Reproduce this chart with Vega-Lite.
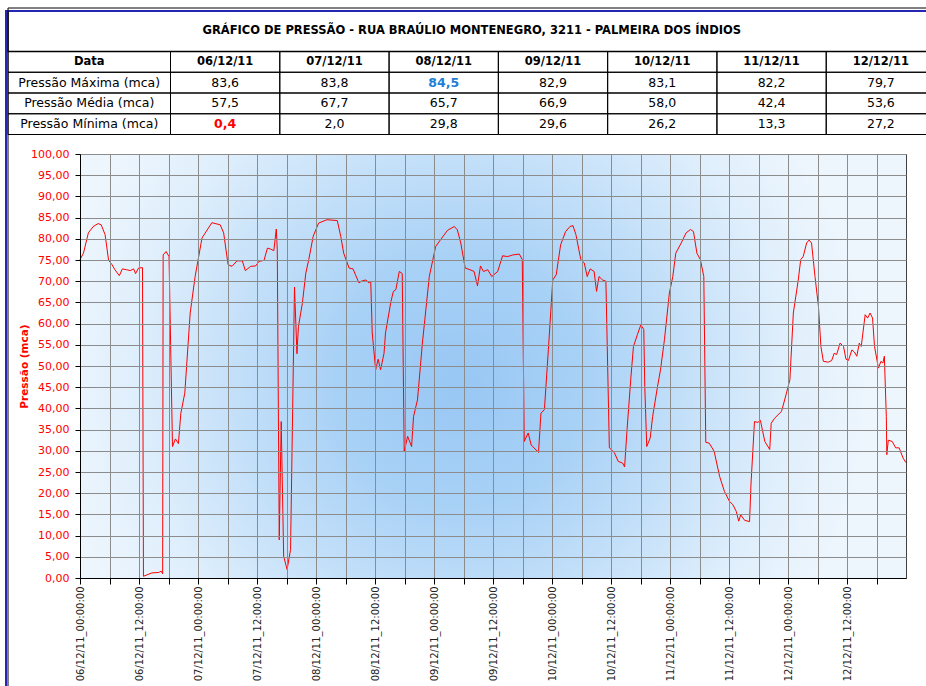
{
  "$schema": "https://vega.github.io/schema/vega-lite/v6.json",
  "width": 826,
  "height": 424,
  "padding": {"left": 5, "top": 7, "right": 0, "bottom": 0},
  "background": "white",
  "config": {
    "font": "DejaVu Sans",
    "view": {"stroke": "#404040", "fill": "#eef6fd"}
  },
  "datasets": {
    "pressao": [
      {"t":"2011-12-06T00:00","p":75.1},{"t":"2011-12-06T00:42","p":76.6},{"t":"2011-12-06T01:42","p":81.4},{"t":"2011-12-06T02:42","p":82.9},{"t":"2011-12-06T03:42","p":83.6},{"t":"2011-12-06T04:18","p":83.3},{"t":"2011-12-06T05:06","p":81.0},{"t":"2011-12-06T05:48","p":75.0},{"t":"2011-12-06T06:30","p":73.9},{"t":"2011-12-06T07:06","p":72.7},{"t":"2011-12-06T08:00","p":71.3},{"t":"2011-12-06T08:36","p":72.9},{"t":"2011-12-06T09:30","p":72.7},{"t":"2011-12-06T10:12","p":72.5},{"t":"2011-12-06T10:54","p":72.9},{"t":"2011-12-06T11:18","p":71.8},{"t":"2011-12-06T11:54","p":73.1},{"t":"2011-12-06T12:42","p":73.2},{"t":"2011-12-06T12:54","p":0.4},{"t":"2011-12-06T14:36","p":1.2},{"t":"2011-12-06T16:00","p":1.3},{"t":"2011-12-06T16:30","p":1.6},{"t":"2011-12-06T16:48","p":1.0},{"t":"2011-12-06T16:54","p":76.2},{"t":"2011-12-06T17:30","p":77.0},{"t":"2011-12-06T18:06","p":75.8},{"t":"2011-12-06T18:48","p":31.0},{"t":"2011-12-06T19:24","p":32.8},{"t":"2011-12-06T20:00","p":31.7},{"t":"2011-12-06T20:30","p":38.9},{"t":"2011-12-06T21:18","p":43.6},{"t":"2011-12-06T22:24","p":62.5},{"t":"2011-12-06T23:24","p":71.1},
      {"t":"2011-12-07T00:48","p":80.2},{"t":"2011-12-07T02:48","p":83.8},{"t":"2011-12-07T04:30","p":83.3},{"t":"2011-12-07T05:12","p":81.4},{"t":"2011-12-07T06:06","p":73.9},{"t":"2011-12-07T06:54","p":73.5},{"t":"2011-12-07T07:54","p":74.8},{"t":"2011-12-07T09:00","p":74.8},{"t":"2011-12-07T09:36","p":72.5},{"t":"2011-12-07T10:42","p":73.5},{"t":"2011-12-07T11:42","p":73.6},{"t":"2011-12-07T12:24","p":74.7},{"t":"2011-12-07T13:24","p":74.9},{"t":"2011-12-07T14:06","p":77.8},{"t":"2011-12-07T14:42","p":77.6},{"t":"2011-12-07T15:24","p":77.2},{"t":"2011-12-07T15:54","p":82.3},{"t":"2011-12-07T16:06","p":77.4},{"t":"2011-12-07T16:30","p":9.0},{"t":"2011-12-07T16:54","p":36.9},{"t":"2011-12-07T17:24","p":5.1},{"t":"2011-12-07T18:06","p":2.0},{"t":"2011-12-07T18:48","p":6.7},{"t":"2011-12-07T19:36","p":68.6},{"t":"2011-12-07T20:06","p":52.9},{"t":"2011-12-07T20:24","p":59.3},{"t":"2011-12-07T21:12","p":64.8},{"t":"2011-12-07T21:54","p":71.9},{"t":"2011-12-07T22:30","p":75.1},{"t":"2011-12-07T23:24","p":80.6},
      {"t":"2011-12-08T00:30","p":83.7},{"t":"2011-12-08T02:12","p":84.5},{"t":"2011-12-08T04:18","p":84.3},{"t":"2011-12-08T05:00","p":80.6},{"t":"2011-12-08T05:36","p":76.6},{"t":"2011-12-08T06:42","p":73.1},{"t":"2011-12-08T07:30","p":72.9},{"t":"2011-12-08T08:00","p":71.5},{"t":"2011-12-08T08:42","p":69.6},{"t":"2011-12-08T09:12","p":70.0},{"t":"2011-12-08T10:06","p":70.3},{"t":"2011-12-08T10:42","p":69.6},{"t":"2011-12-08T11:06","p":70.0},{"t":"2011-12-08T11:24","p":57.8},{"t":"2011-12-08T12:06","p":49.1},{"t":"2011-12-08T12:36","p":51.6},{"t":"2011-12-08T13:06","p":49.1},{"t":"2011-12-08T13:48","p":53.0},{"t":"2011-12-08T14:06","p":57.8},{"t":"2011-12-08T15:12","p":65.2},{"t":"2011-12-08T15:42","p":67.6},{"t":"2011-12-08T16:12","p":68.0},{"t":"2011-12-08T16:54","p":72.3},{"t":"2011-12-08T17:30","p":71.8},{"t":"2011-12-08T17:54","p":29.8},{"t":"2011-12-08T18:36","p":33.4},{"t":"2011-12-08T19:24","p":31.0},{"t":"2011-12-08T19:48","p":38.1},{"t":"2011-12-08T20:36","p":42.0},{"t":"2011-12-08T21:36","p":55.4},{"t":"2011-12-08T23:00","p":71.1},
      {"t":"2011-12-09T00:18","p":78.2},{"t":"2011-12-09T01:18","p":79.8},{"t":"2011-12-09T02:42","p":82.0},{"t":"2011-12-09T04:06","p":82.9},{"t":"2011-12-09T04:42","p":82.1},{"t":"2011-12-09T05:24","p":79.0},{"t":"2011-12-09T06:18","p":73.1},{"t":"2011-12-09T07:18","p":72.7},{"t":"2011-12-09T08:06","p":72.3},{"t":"2011-12-09T08:48","p":68.9},{"t":"2011-12-09T09:24","p":73.6},{"t":"2011-12-09T10:00","p":72.3},{"t":"2011-12-09T10:54","p":72.7},{"t":"2011-12-09T11:42","p":71.1},{"t":"2011-12-09T12:54","p":72.3},{"t":"2011-12-09T13:54","p":76.0},{"t":"2011-12-09T14:54","p":75.8},{"t":"2011-12-09T16:00","p":76.2},{"t":"2011-12-09T17:18","p":76.4},{"t":"2011-12-09T17:54","p":75.1},{"t":"2011-12-09T18:18","p":32.2},{"t":"2011-12-09T19:06","p":34.2},{"t":"2011-12-09T19:42","p":31.4},{"t":"2011-12-09T21:12","p":29.6},{"t":"2011-12-09T21:42","p":38.9},{"t":"2011-12-09T22:24","p":39.7},{"t":"2011-12-09T23:12","p":53.8},
      {"t":"2011-12-10T00:06","p":70.3},{"t":"2011-12-10T00:48","p":71.5},{"t":"2011-12-10T01:42","p":78.6},{"t":"2011-12-10T02:42","p":81.7},{"t":"2011-12-10T03:36","p":82.9},{"t":"2011-12-10T04:12","p":83.1},{"t":"2011-12-10T04:48","p":81.0},{"t":"2011-12-10T05:48","p":75.1},{"t":"2011-12-10T06:30","p":74.3},{"t":"2011-12-10T07:06","p":71.1},{"t":"2011-12-10T07:42","p":72.9},{"t":"2011-12-10T08:30","p":72.3},{"t":"2011-12-10T09:00","p":67.6},{"t":"2011-12-10T09:30","p":71.1},{"t":"2011-12-10T10:12","p":70.3},{"t":"2011-12-10T10:54","p":70.0},{"t":"2011-12-10T11:36","p":30.7},{"t":"2011-12-10T12:36","p":29.6},{"t":"2011-12-10T13:24","p":27.5},{"t":"2011-12-10T14:18","p":27.1},{"t":"2011-12-10T14:42","p":26.2},{"t":"2011-12-10T15:12","p":35.0},{"t":"2011-12-10T16:00","p":47.6},{"t":"2011-12-10T16:30","p":54.6},{"t":"2011-12-10T17:18","p":57.4},{"t":"2011-12-10T18:00","p":59.7},{"t":"2011-12-10T18:36","p":58.6},{"t":"2011-12-10T18:48","p":45.2},{"t":"2011-12-10T19:12","p":31.0},{"t":"2011-12-10T19:54","p":33.0},{"t":"2011-12-10T20:24","p":38.1},{"t":"2011-12-10T21:24","p":45.2},{"t":"2011-12-10T22:00","p":49.1},{"t":"2011-12-10T22:48","p":56.2},{"t":"2011-12-10T23:48","p":67.2},
      {"t":"2011-12-11T00:30","p":71.1},{"t":"2011-12-11T01:06","p":76.6},{"t":"2011-12-11T02:12","p":79.0},{"t":"2011-12-11T03:12","p":81.4},{"t":"2011-12-11T04:06","p":82.2},{"t":"2011-12-11T04:42","p":81.7},{"t":"2011-12-11T05:24","p":76.6},{"t":"2011-12-11T06:06","p":75.1},{"t":"2011-12-11T06:48","p":71.1},{"t":"2011-12-11T07:12","p":32.0},{"t":"2011-12-11T07:54","p":31.8},{"t":"2011-12-11T08:54","p":29.9},{"t":"2011-12-11T10:00","p":24.0},{"t":"2011-12-11T11:00","p":20.4},{"t":"2011-12-11T12:00","p":18.1},{"t":"2011-12-11T12:42","p":17.3},{"t":"2011-12-11T13:24","p":15.7},{"t":"2011-12-11T13:54","p":13.4},{"t":"2011-12-11T14:18","p":14.9},{"t":"2011-12-11T15:06","p":13.6},{"t":"2011-12-11T16:06","p":13.3},{"t":"2011-12-11T16:24","p":22.4},{"t":"2011-12-11T17:06","p":36.9},{"t":"2011-12-11T17:48","p":36.7},{"t":"2011-12-11T18:18","p":37.2},{"t":"2011-12-11T19:12","p":32.2},{"t":"2011-12-11T20:12","p":30.3},{"t":"2011-12-11T20:30","p":36.5},{"t":"2011-12-11T21:12","p":37.7},{"t":"2011-12-11T22:36","p":39.3},{"t":"2011-12-11T23:36","p":43.6},
      {"t":"2011-12-12T00:18","p":46.8},{"t":"2011-12-12T01:00","p":62.5},{"t":"2011-12-12T02:00","p":70.3},{"t":"2011-12-12T02:30","p":75.1},{"t":"2011-12-12T03:00","p":75.8},{"t":"2011-12-12T03:42","p":79.0},{"t":"2011-12-12T04:12","p":79.7},{"t":"2011-12-12T04:42","p":79.0},{"t":"2011-12-12T05:24","p":71.1},{"t":"2011-12-12T06:06","p":64.1},{"t":"2011-12-12T06:36","p":54.6},{"t":"2011-12-12T07:06","p":51.1},{"t":"2011-12-12T08:06","p":50.9},{"t":"2011-12-12T08:48","p":51.3},{"t":"2011-12-12T09:18","p":53.0},{"t":"2011-12-12T09:48","p":52.7},{"t":"2011-12-12T10:30","p":55.4},{"t":"2011-12-12T11:12","p":54.6},{"t":"2011-12-12T11:42","p":51.6},{"t":"2011-12-12T12:12","p":51.3},{"t":"2011-12-12T12:54","p":53.8},{"t":"2011-12-12T13:24","p":53.3},{"t":"2011-12-12T13:54","p":52.3},{"t":"2011-12-12T14:24","p":55.4},{"t":"2011-12-12T14:48","p":54.6},{"t":"2011-12-12T15:36","p":62.1},{"t":"2011-12-12T16:06","p":61.3},{"t":"2011-12-12T16:36","p":62.5},{"t":"2011-12-12T17:06","p":61.3},{"t":"2011-12-12T17:30","p":54.6},{"t":"2011-12-12T18:18","p":49.5},{"t":"2011-12-12T18:48","p":51.1},{"t":"2011-12-12T19:12","p":50.7},{"t":"2011-12-12T19:30","p":52.3},{"t":"2011-12-12T19:54","p":38.1},{"t":"2011-12-12T20:00","p":29.1},{"t":"2011-12-12T20:18","p":32.5},{"t":"2011-12-12T21:06","p":32.2},{"t":"2011-12-12T21:48","p":30.7},{"t":"2011-12-12T22:30","p":30.7},{"t":"2011-12-12T23:18","p":28.3},{"t":"2011-12-12T23:54","p":27.2}
    ],
    "tabela": [
      {"data":"06/12/11","linha":"Pressão Máxima (mca)","texto":"83,6","destaque":"nenhum"},
      {"data":"06/12/11","linha":"Pressão Média (mca)","texto":"57,5","destaque":"nenhum"},
      {"data":"06/12/11","linha":"Pressão Mínima (mca)","texto":"0,4","destaque":"mínima"},
      {"data":"07/12/11","linha":"Pressão Máxima (mca)","texto":"83,8","destaque":"nenhum"},
      {"data":"07/12/11","linha":"Pressão Média (mca)","texto":"67,7","destaque":"nenhum"},
      {"data":"07/12/11","linha":"Pressão Mínima (mca)","texto":"2,0","destaque":"nenhum"},
      {"data":"08/12/11","linha":"Pressão Máxima (mca)","texto":"84,5","destaque":"máxima"},
      {"data":"08/12/11","linha":"Pressão Média (mca)","texto":"65,7","destaque":"nenhum"},
      {"data":"08/12/11","linha":"Pressão Mínima (mca)","texto":"29,8","destaque":"nenhum"},
      {"data":"09/12/11","linha":"Pressão Máxima (mca)","texto":"82,9","destaque":"nenhum"},
      {"data":"09/12/11","linha":"Pressão Média (mca)","texto":"66,9","destaque":"nenhum"},
      {"data":"09/12/11","linha":"Pressão Mínima (mca)","texto":"29,6","destaque":"nenhum"},
      {"data":"10/12/11","linha":"Pressão Máxima (mca)","texto":"83,1","destaque":"nenhum"},
      {"data":"10/12/11","linha":"Pressão Média (mca)","texto":"58,0","destaque":"nenhum"},
      {"data":"10/12/11","linha":"Pressão Mínima (mca)","texto":"26,2","destaque":"nenhum"},
      {"data":"11/12/11","linha":"Pressão Máxima (mca)","texto":"82,2","destaque":"nenhum"},
      {"data":"11/12/11","linha":"Pressão Média (mca)","texto":"42,4","destaque":"nenhum"},
      {"data":"11/12/11","linha":"Pressão Mínima (mca)","texto":"13,3","destaque":"nenhum"},
      {"data":"12/12/11","linha":"Pressão Máxima (mca)","texto":"79,7","destaque":"nenhum"},
      {"data":"12/12/11","linha":"Pressão Média (mca)","texto":"53,6","destaque":"nenhum"},
      {"data":"12/12/11","linha":"Pressão Mínima (mca)","texto":"27,2","destaque":"nenhum"}
    ],
    "linhas": [
      {"linha":"Data","coluna":"rótulos"},
      {"linha":"Pressão Máxima (mca)","coluna":"rótulos"},
      {"linha":"Pressão Média (mca)","coluna":"rótulos"},
      {"linha":"Pressão Mínima (mca)","coluna":"rótulos"}
    ],
    "titulo": [
      {"titulo":"GRÁFICO DE PRESSÃO - RUA BRAÚLIO MONTENEGRO, 3211 - PALMEIRA DOS ÍNDIOS"}
    ],
    "moldura": [
      {"moldura":"externa"}
    ]
  },
  "layer": [
    {
      "data": {"name": "pressao"},
      "layer": [
        {
          "mark": {
            "type": "rect",
            "stroke": null,
            "fill": {
              "gradient": "radial",
              "x1": 0.46, "y1": 0.52, "x2": 0.46, "y2": 0.52, "r1": 0, "r2": 0.5,
              "stops": [
                {"offset": 0, "color": "#98c7f4"},
                {"offset": 0.3, "color": "#a8d1f6"},
                {"offset": 0.55, "color": "#c4e0f9"},
                {"offset": 0.8, "color": "#e0effc"},
                {"offset": 1, "color": "#eef6fd"}
              ]
            }
          },
          "encoding": {
            "x": {
              "aggregate": "min", "field": "t", "type": "temporal",
              "axis": {
                "title": null,
                "zindex": 1,
                "labelExpr": "hours(datum.value) % 12 === 0 ? timeFormat(datum.value, '%d/%m/%y_%H:%M:%S') : ''",
                "labelAngle": -90,
                "labelFontSize": 10,
                "labelColor": "#222222",
                "labelPadding": 2,
                "labelFlush": false,
                "labelOverlap": false,
                "tickSize": 6,
                "tickColor": "#000000",
                "domainColor": "#000000",
                "grid": true,
                "gridColor": "#8c8c8c",
                "gridOpacity": 1
              }
            },
            "x2": {"aggregate": "max", "field": "t"},
            "y": {
              "datum": 0, "type": "quantitative",
              "scale": {"domain": [0, 100]},
              "axis": {
                "title": "Pressão (mca)",
                "zindex": 1,
                "titleColor": "#ff0000",
                "titleFontSize": 10.5,
                "titleFontWeight": "bold",
                "titlePadding": 1,
                "values": [0, 5, 10, 15, 20, 25, 30, 35, 40, 45, 50, 55, 60, 65, 70, 75, 80, 85, 90, 95, 100],
                "labelExpr": "replace(format(datum.value, '.2f'), '.', ',')",
                "labelColor": "#ff0000",
                "labelFontSize": 11,
                "labelFlush": false,
                "labelOverlap": false,
                "tickSize": 5,
                "labelPadding": 6,
                "tickColor": "#000000",
                "domainColor": "#000000",
                "grid": true,
                "gridColor": "#8c8c8c",
                "gridOpacity": 1
              }
            },
            "y2": {"datum": 100}
          }
        },
        {
          "mark": {"type": "line", "color": "#ff0000", "strokeWidth": 1},
          "encoding": {
            "x": {
              "field": "t", "type": "temporal",
              "axis": {
                "title": null,
                "zindex": 1,
                "labelExpr": "hours(datum.value) % 12 === 0 ? timeFormat(datum.value, '%d/%m/%y_%H:%M:%S') : ''",
                "labelAngle": -90,
                "labelFontSize": 10,
                "labelColor": "#222222",
                "labelPadding": 2,
                "labelFlush": false,
                "labelOverlap": false,
                "tickSize": 6,
                "tickColor": "#000000",
                "domainColor": "#000000",
                "grid": true,
                "gridColor": "#8c8c8c",
                "gridOpacity": 1
              }
            },
            "y": {
              "field": "p", "type": "quantitative",
              "scale": {"domain": [0, 100]},
              "axis": {
                "title": "Pressão (mca)",
                "zindex": 1,
                "titleColor": "#ff0000",
                "titleFontSize": 10.5,
                "titleFontWeight": "bold",
                "titlePadding": 1,
                "values": [0, 5, 10, 15, 20, 25, 30, 35, 40, 45, 50, 55, 60, 65, 70, 75, 80, 85, 90, 95, 100],
                "labelExpr": "replace(format(datum.value, '.2f'), '.', ',')",
                "labelColor": "#ff0000",
                "labelFontSize": 11,
                "labelFlush": false,
                "labelOverlap": false,
                "tickSize": 5,
                "labelPadding": 6,
                "tickColor": "#000000",
                "domainColor": "#000000",
                "grid": true,
                "gridColor": "#8c8c8c",
                "gridOpacity": 1
              }
            }
          }
        }
      ]
    },
    {
      "layer": [
        {
          "data": {"name": "tabela"},
          "layer": [
            {
              "mark": {"type": "rect", "filled": false, "color": "#000000", "strokeWidth": 1},
              "encoding": {
                "x": {"field": "data", "type": "nominal", "scale": {"type": "band", "range": [90.5, 855.5], "paddingInner": 0, "paddingOuter": 0}, "axis": null},
                "y": {"field": "linha", "type": "nominal", "scale": {"type": "band", "domain": ["Data", "Pressão Máxima (mca)", "Pressão Média (mca)", "Pressão Mínima (mca)"], "range": [-102.5, -19.5], "paddingInner": 0, "paddingOuter": 0}, "axis": null}
              }
            },
            {
              "transform": [{"filter": "datum.linha === 'Pressão Máxima (mca)'"}],
              "mark": {"type": "rect", "filled": false, "color": "#000000", "strokeWidth": 1},
              "encoding": {
                "x": {"field": "data", "type": "nominal", "axis": null},
                "y": {"datum": "Data", "type": "nominal", "axis": null}
              }
            },
            {
              "transform": [{"filter": "datum.linha === 'Pressão Máxima (mca)'"}],
              "mark": {"type": "text", "fontWeight": "bold", "fontSize": 11.5, "color": "#000000", "baseline": "middle"},
              "encoding": {
                "x": {"field": "data", "type": "nominal", "axis": null},
                "y": {"datum": "Data", "type": "nominal", "axis": null},
                "text": {"field": "data", "type": "nominal"}
              }
            },
            {
              "transform": [{"filter": "datum.destaque === 'nenhum'"}],
              "mark": {"type": "text", "fontSize": 12.5, "color": "#000000", "baseline": "middle"},
              "encoding": {
                "x": {"field": "data", "type": "nominal", "axis": null},
                "y": {"field": "linha", "type": "nominal", "axis": null},
                "text": {"field": "texto", "type": "nominal"}
              }
            },
            {
              "transform": [{"filter": "datum.destaque !== 'nenhum'"}],
              "mark": {"type": "text", "fontSize": 12.5, "fontWeight": "bold", "baseline": "middle"},
              "encoding": {
                "x": {"field": "data", "type": "nominal", "axis": null},
                "y": {"field": "linha", "type": "nominal", "axis": null},
                "text": {"field": "texto", "type": "nominal"},
                "color": {"condition": {"test": "datum.destaque === 'máxima'", "value": "#1f7fd6"}, "value": "#ff0000"}
              }
            }
          ]
        },
        {
          "data": {"name": "linhas"},
          "layer": [
            {
              "mark": {"type": "rect", "filled": false, "color": "#000000", "strokeWidth": 1},
              "encoding": {
                "x": {"field": "coluna", "type": "nominal", "scale": {"type": "band", "range": [-72, 90.5], "paddingInner": 0, "paddingOuter": 0}, "axis": null},
                "y": {"field": "linha", "type": "nominal", "scale": {"type": "band", "domain": ["Data", "Pressão Máxima (mca)", "Pressão Média (mca)", "Pressão Mínima (mca)"], "range": [-102.5, -19.5], "paddingInner": 0, "paddingOuter": 0}, "axis": null}
              }
            },
            {
              "transform": [{"filter": "datum.linha !== 'Data'"}],
              "mark": {"type": "text", "fontSize": 12.5, "color": "#000000", "baseline": "middle"},
              "encoding": {
                "x": {"field": "coluna", "type": "nominal", "axis": null},
                "y": {"field": "linha", "type": "nominal", "axis": null},
                "text": {"field": "linha", "type": "nominal"}
              }
            },
            {
              "transform": [{"filter": "datum.linha === 'Data'"}],
              "mark": {"type": "text", "fontSize": 11.5, "fontWeight": "bold", "color": "#000000", "baseline": "middle"},
              "encoding": {
                "x": {"field": "coluna", "type": "nominal", "axis": null},
                "y": {"field": "linha", "type": "nominal", "axis": null},
                "text": {"field": "linha", "type": "nominal"}
              }
            }
          ]
        },
        {
          "data": {"name": "titulo"},
          "layer": [
            {
              "mark": {"type": "rect", "filled": false, "color": "#000000", "strokeWidth": 1.5},
              "encoding": {
                "x": {"field": "titulo", "type": "nominal", "scale": {"type": "band", "range": [-72, 855.5], "paddingInner": 0, "paddingOuter": 0}, "axis": null},
                "y": {"field": "titulo", "type": "nominal", "scale": {"type": "band", "range": [-143, -102.5], "paddingInner": 0, "paddingOuter": 0}, "axis": null}
              }
            },
            {
              "mark": {"type": "text", "fontSize": 11.5, "fontWeight": "bold", "color": "#000000", "baseline": "middle"},
              "encoding": {
                "x": {"field": "titulo", "type": "nominal", "axis": null},
                "y": {"field": "titulo", "type": "nominal", "axis": null},
                "text": {"field": "titulo", "type": "nominal"}
              }
            }
          ]
        }
      ],
      "resolve": {"scale": {"x": "independent", "y": "independent"}}
    },
    {
      "data": {"name": "moldura"},
      "layer": [
        {
          "mark": {"type": "rect", "filled": false, "color": "#2626b4", "strokeWidth": 2},
          "encoding": {
            "x": {"field": "moldura", "type": "nominal", "scale": {"type": "band", "range": [-74, 1100], "paddingInner": 0, "paddingOuter": 0}, "axis": null},
            "y": {"field": "moldura", "type": "nominal", "scale": {"type": "band", "range": [-143, 700], "paddingInner": 0, "paddingOuter": 0}, "axis": null}
          }
        },
        {
          "mark": {"type": "rect", "filled": false, "color": "#000000", "strokeWidth": 1},
          "encoding": {
            "x": {"field": "moldura", "type": "nominal", "scale": {"type": "band", "range": [-72, 1100], "paddingInner": 0, "paddingOuter": 0}, "axis": null},
            "y": {"field": "moldura", "type": "nominal", "scale": {"type": "band", "range": [-146, 700], "paddingInner": 0, "paddingOuter": 0}, "axis": null}
          }
        }
      ],
      "resolve": {"scale": {"x": "independent", "y": "independent"}}
    }
  ],
  "resolve": {"scale": {"x": "independent", "y": "independent"}}
}
